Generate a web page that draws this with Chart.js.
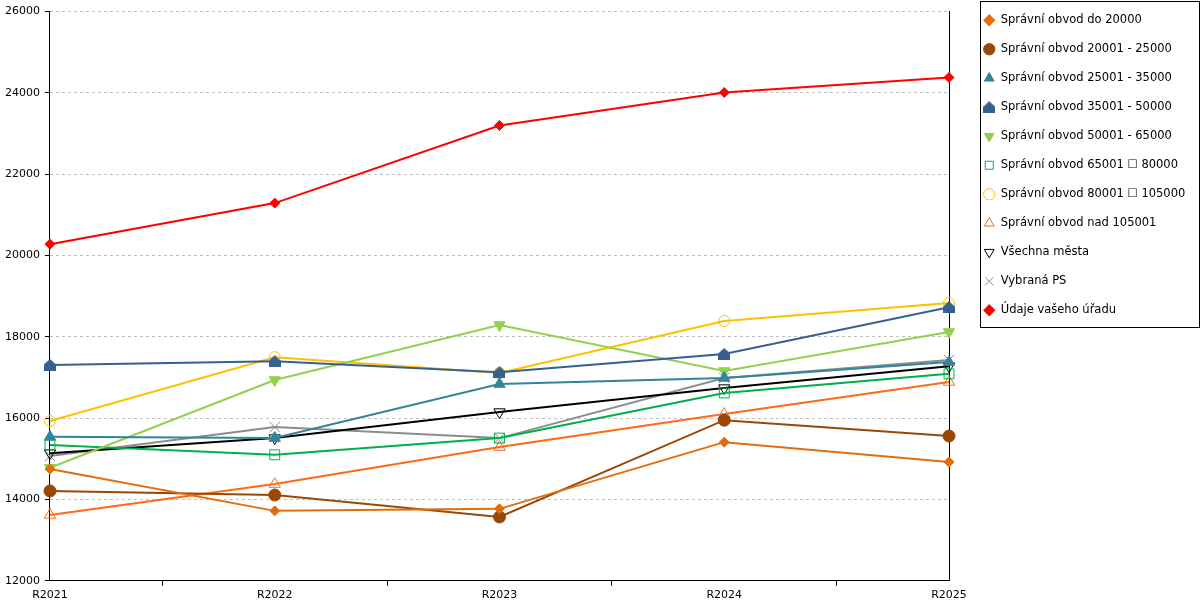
<!DOCTYPE html>
<html>
<head>
<meta charset="utf-8">
<script src="https://cdn.jsdelivr.net/npm/chart.js@4/dist/chart.umd.min.js"></script>
<style>
  html, body { margin: 0; padding: 0; background: #fff; }
  #wrap { width: 1200px; height: 600px; }
</style>
</head>
<body>
<div id="wrap"><canvas id="chart"></canvas></div>
<script>
const years = ['R2021', 'R2022', 'R2023', 'R2024', 'R2025'];
const yTicks = [12000, 14000, 16000, 18000, 20000, 22000, 24000, 26000];

const seriesNames = [
    'Správní obvod do 20000',
    'Správní obvod 20001 - 25000',
    'Správní obvod 25001 - 35000',
    'Správní obvod 35001 - 50000',
    'Správní obvod 50001 - 65000',
    'Správní obvod 65001 ☐ 80000',
    'Správní obvod 80001 ☐ 105000',
    'Správní obvod nad 105001',
    'Všechna města',
    'Vybraná PS',
    'Údaje vašeho úřadu'
];

const do20000 = [14750, 13720, 13770, 15410, 14920];
const od20001 = [14210, 14110, 13570, 15950, 15560];
const od25001 = [15540, 15510, 16840, 16990, 17380];
const od35001 = [17310, 17400, 17130, 17580, 18730];
const od50001 = [14780, 16940, 18290, 17160, 18120];
const od65001 = [15340, 15100, 15510, 16620, 17090];
const od80001 = [15930, 17500, 17110, 18390, 18830];
const nad105001 = [13620, 14380, 15290, 16100, 16890];
const vsechnaMesta = [15140, 15510, 16150, 16740, 17280];
const vybranaPS = [15070, 15780, 15510, 16990, 17430];
const vasUrad = [20280, 21290, 23200, 24010, 24380];

const font = { family: '"DejaVu Sans", Verdana, sans-serif', size: 11 };
const legendFont = { family: '"DejaVu Sans", Verdana, sans-serif', size: 11.5 };

// house-shaped marker (square with a roof)
const house = document.createElement('canvas');
house.width = 12;
house.height = 12;
(function () {
    const c = house.getContext('2d');
    c.fillStyle = '#376092';
    c.beginPath();
    c.moveTo(0, 5.5);
    c.lineTo(6, 0);
    c.lineTo(12, 5.5);
    c.lineTo(12, 12);
    c.lineTo(0, 12);
    c.closePath();
    c.fill();
})();

function series(i, data, color, style, opts) {
    return Object.assign({
        label: seriesNames[i],
        data: data,
        borderColor: color,
        backgroundColor: color,
        borderWidth: 2,
        tension: 0,
        pointStyle: style,
        pointRadius: 5.5,
        pointHoverRadius: 5.5,
        pointBackgroundColor: color,
        pointBorderColor: color,
        pointBorderWidth: 1
    }, opts || {});
}

const datasets = [
    series(0, do20000, '#E46C0A', 'rectRot', { pointRadius: 5 }),
    series(1, od20001, '#984807', 'circle', { pointRadius: 6 }),
    series(2, od25001, '#31859C', 'triangle', { pointRadius: 6.5 }),
    series(3, od35001, '#376092', house),
    series(4, od50001, '#92D050', 'triangle', { pointRadius: 6.5, pointRotation: 180 }),
    series(5, od65001, '#00B050', 'rect', { pointRadius: 7, pointBackgroundColor: 'transparent' }),
    series(6, od80001, '#FFC000', 'circle', { pointBackgroundColor: 'transparent' }),
    series(7, nad105001, '#FF6A13', 'triangle', { pointRadius: 6.5, pointBackgroundColor: 'transparent' }),
    series(8, vsechnaMesta, '#000000', 'triangle', { pointRadius: 6.5, pointRotation: 180, pointBackgroundColor: 'transparent' }),
    series(9, vybranaPS, '#8C8C8C', 'crossRot', { pointRadius: 7.5 }),
    series(10, vasUrad, '#FF0000', 'rectRot', { pointRadius: 5 })
];

// place the legend next to the plot and frame it
const legendFrame = {
    id: 'legendFrame',
    afterLayout(chart) {
        const lg = chart.legend;
        const h = lg.height;
        lg.left = chart.chartArea.right + 17;
        lg.right = chart.width;
        lg.width = lg.right - lg.left;
        lg.top = -3;
        lg.bottom = lg.top + h;
    },
    afterDraw(chart) {
        const lg = chart.legend;
        const ctx = chart.ctx;
        const x = Math.round(lg.left + 14);
        ctx.save();
        ctx.strokeStyle = '#000';
        ctx.lineWidth = 1;
        ctx.strokeRect(x + 0.5, 1.5, chart.width - x - 1, 326);
        ctx.restore();
    }
};

new Chart(document.getElementById('chart').getContext('2d'), {
    type: 'line',
    data: { labels: years, datasets: datasets },
    plugins: [legendFrame],
    options: {
        responsive: true,
        maintainAspectRatio: false,
        animation: false,
        layout: { padding: { left: 0, right: 0, top: 6, bottom: -5 } },
        plugins: {
            legend: {
                position: 'right',
                align: 'start',
                labels: {
                    usePointStyle: true,
                    boxHeight: 8,
                    boxWidth: 12,
                    padding: 17.5,
                    color: '#000',
                    font: legendFont
                }
            },
            tooltip: { enabled: false }
        },
        scales: {
            x: {
                offset: false,
                border: { color: '#000', width: 1 },
                grid: {
                    offset: true,
                    drawOnChartArea: false,
                    tickLength: 5,
                    tickColor: '#000'
                },
                ticks: { color: '#000', font: font, padding: 3, maxRotation: 0 }
            },
            y: {
                min: 12000,
                max: 26000,
                afterBuildTicks: axis => { axis.ticks = yTicks.map(v => ({ value: v })); },
                border: { color: '#000', width: 1, dash: [3, 3] },
                grid: {
                    color: '#C0C0C0',
                    tickColor: '#000',
                    tickLength: 5,
                    tickBorderDash: []
                },
                ticks: { color: '#000', font: font, padding: 5, callback: v => String(v) }
            },
            y2: {
                position: 'right',
                min: 12000,
                max: 26000,
                afterFit: axis => { axis.width = 51; },
                border: { color: '#000', width: 1 },
                grid: { drawOnChartArea: false, drawTicks: false },
                ticks: { display: false }
            }
        }
    }
});
</script>
</body>
</html>
